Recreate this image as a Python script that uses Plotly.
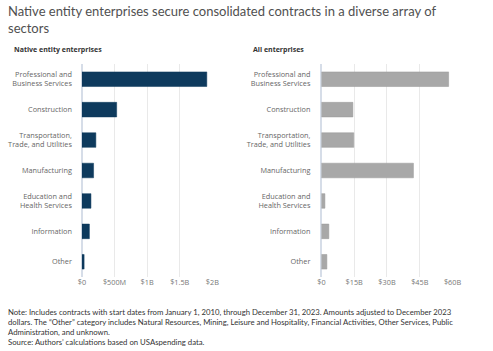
import plotly.graph_objects as go

categories = ["Professional and<br>Business Services", "Construction", "Transportation,<br>Trade, and Utilities",
              "Manufacturing", "Education and<br>Health Services", "Information", "Other"]
native_values = [1.915e9, 0.533e9, 0.214e9, 0.179e9, 0.139e9, 0.115e9, 0.034e9]
all_values = [58.2e9, 14.4e9, 14.8e9, 42.1e9, 1.6e9, 3.4e9, 2.5e9]
native_tickvals = [0, 0.5e9, 1e9, 1.5e9, 2e9]
native_ticktext = ["$0", "$500M", "$1B", "$1.5B", "$2B"]
all_tickvals = [0, 15e9, 30e9, 45e9, 60e9]
all_ticktext = ["$0", "$15B", "$30B", "$45B", "$60B"]

W, H = 493, 351
FONT = "Lato, Open Sans, sans-serif"
CATFONT = "Open Sans, sans-serif"

fig = go.Figure()
fig.add_trace(go.Bar(y=categories, x=native_values, orientation="h", xaxis="x", yaxis="y",
                     marker=dict(color="#0e3a5d", line=dict(color="#0e3a5d", width=0.5)), width=0.48))
fig.add_trace(go.Bar(y=categories, x=all_values, orientation="h", xaxis="x2", yaxis="y2",
                     marker=dict(color="#a8a8a8", line=dict(color="#999999", width=0.5)), width=0.48))

ydom = [(H - 277) / H, (H - 64) / H]
axis_font = dict(family=CATFONT, size=7.3, color="#777777")
cat_font = dict(family=CATFONT, size=7.3, color="#666666")

fig.update_layout(
    width=W, height=H, margin=dict(l=0, r=0, t=0, b=0),
    paper_bgcolor="white", plot_bgcolor="white", showlegend=False,
    font=dict(family=FONT),
    xaxis=dict(domain=[80 / W, 214 / W], range=[0, 2e9], tickvals=native_tickvals, ticktext=native_ticktext,
               showgrid=True, gridcolor="#e9e9e9", gridwidth=1, zeroline=True, zerolinecolor="#d6dde8",
               tickfont=axis_font, ticks="", anchor="y", fixedrange=True),
    yaxis=dict(domain=ydom, autorange="reversed", tickfont=cat_font, ticks="", ticklabelstandoff=9,
               anchor="x", showgrid=False, fixedrange=True),
    xaxis2=dict(domain=[326 / W, 460.7 / W], range=[0, 60e9], tickvals=all_tickvals, ticktext=all_ticktext,
                showgrid=True, gridcolor="#e9e9e9", gridwidth=1, zeroline=True, zerolinecolor="#d6dde8",
                tickfont=axis_font, ticks="", anchor="y2", fixedrange=True),
    yaxis2=dict(domain=ydom, autorange="reversed", tickfont=cat_font, ticks="", ticklabelstandoff=10,
                anchor="x2", showgrid=False, fixedrange=True),
)

fig.add_annotation(text="Native entity enterprises secure consolidated contracts in a diverse array of<br>sectors",
                   xref="paper", yref="paper", x=2 / W, y=1 - 1 / H, xanchor="left", yanchor="top",
                   align="left", showarrow=False,
                   font=dict(family=FONT, size=13, color="#505050"))
fig.add_annotation(text="<b>Native entity enterprises</b>", xref="paper", yref="paper",
                   x=8 / W, y=1 - 50 / H, xanchor="left", yanchor="middle", showarrow=False,
                   font=dict(family=CATFONT, size=7, color="#333333"))
fig.add_annotation(text="<b>All enterprises</b>", xref="paper", yref="paper",
                   x=254 / W, y=1 - 50 / H, xanchor="left", yanchor="middle", showarrow=False,
                   font=dict(family=CATFONT, size=7, color="#333333"))
note = ("Note: Includes contracts with start dates from January 1, 2010, through December 31, 2023. Amounts adjusted to December 2023<br>"
        "dollars. The \u201cOther\u201d category includes Natural Resources, Mining, Leisure and Hospitality, Financial Activities, Other Services, Public<br>"
        "Administration, and unknown.<br>"
        "Source: Authors\u2019 calculations based on USAspending data.")
fig.add_annotation(text=note, xref="paper", yref="paper", x=2 / W, y=1 - 305 / H, xanchor="left", yanchor="top",
                   align="left", showarrow=False,
                   font=dict(family=FONT, size=7.75, color="#333333"))

fig.write_html("out.html")
